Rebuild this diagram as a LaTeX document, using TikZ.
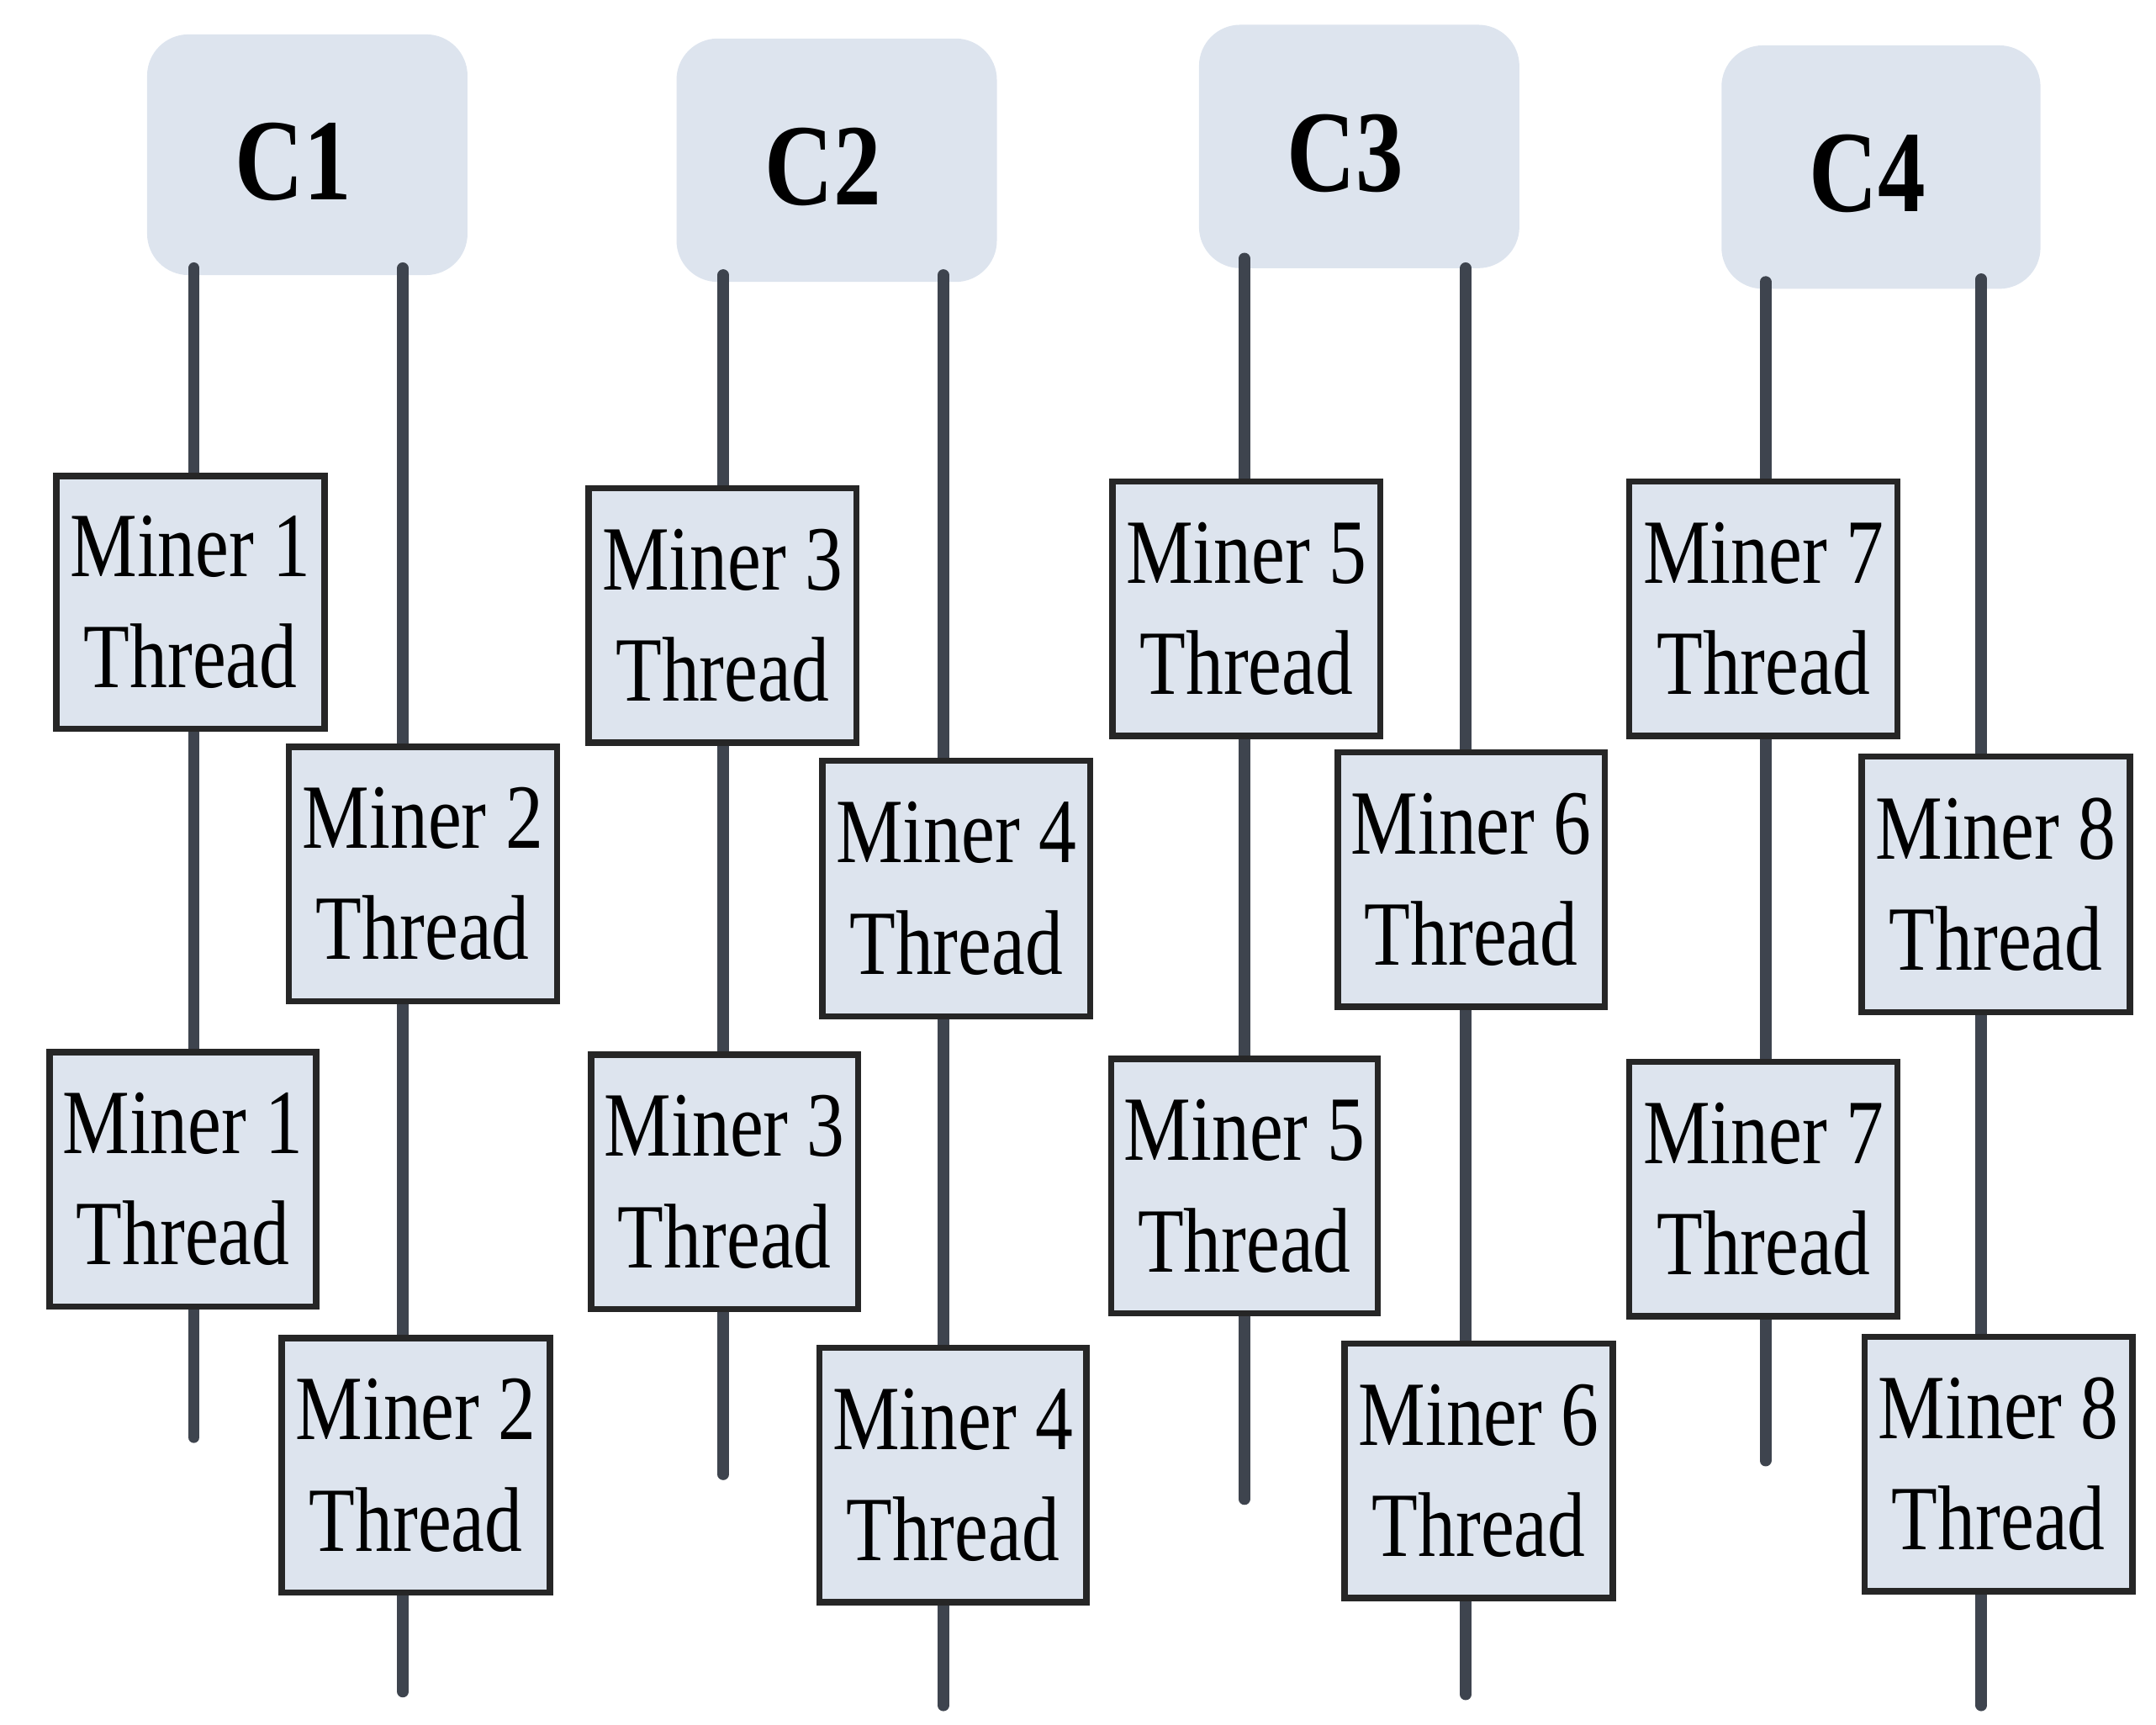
\documentclass[tikz,border=0pt]{standalone}
\usepackage{fontspec}
\setmainfont{Liberation Serif}[FakeStretch=0.82]
\begin{document}
\begin{tikzpicture}[x=0.01cm,y=-0.01cm,
  hdr/.style={fill=hfill,rounded corners=0.3cm},
  lane/.style={line width=2.4pt,draw=lanec,line cap=round},
  mb/.style={draw=black!85,line width=1.3pt,fill=bfill},
  lbl/.style={font=\fontsize{19}{21}\selectfont,align=center,inner sep=0pt}]
\definecolor{hfill}{HTML}{DDE4EE}
\definecolor{bfill}{HTML}{DDE4EE}
\definecolor{lanec}{HTML}{3E444E}
\useasboundingbox (0,0) rectangle (1568,1254);
% headers
\foreach \n/\xa/\ya/\xb/\yb in {1/107/25/340/200, 2/492/28/725/205, 3/872/18/1105/195, 4/1252/33/1484/210}{
  \fill[hdr] (\xa,\ya) rectangle (\xb,\yb);
  \node[font=\fontsize{24}{26}\selectfont\bfseries] (C\n) at ({(\xa+\xb)/2-10},{(\ya+\yb)/2+5}) {C\n};
}
% lanes
\foreach \x/\ya/\yb in {141/195/1045, 293/195/1230, 526/200/1072, 686/200/1240, 905/188/1090, 1066/195/1232, 1284/205/1062, 1441/203/1240}{
  \coordinate (t\x) at (\x,\ya); \coordinate (b\x) at (\x,\yb);
  \draw[lane] (t\x) -- (b\x);
}
% boxes
\foreach \i/\n/\xa/\ya/\xb/\yb in {
 a/1/41/346/236/530, b/2/210/543/405/728, c/1/36/765/230/950, d/2/205/973/400/1158,
 e/3/428/355/623/540, f/4/598/553/793/739, g/3/430/767/624/952, h/4/596/980/790/1165,
 i/5/809/350/1004/535, j/6/973/547/1167/732, k/5/808/770/1002/955, l/6/978/977/1173/1162,
 m/7/1185/350/1380/535, n/8/1354/550/1549/736, o/7/1185/772/1380/957, p/8/1356/972/1551/1157}{
  \draw[mb] (\xa,\ya) rectangle (\xb,\yb);
  \node[lbl] (m\i) at ({(\xa+\xb)/2},{(\ya+\yb)/2}) {Miner \n\\[2pt]Thread};
}
\end{tikzpicture}
\end{document}
